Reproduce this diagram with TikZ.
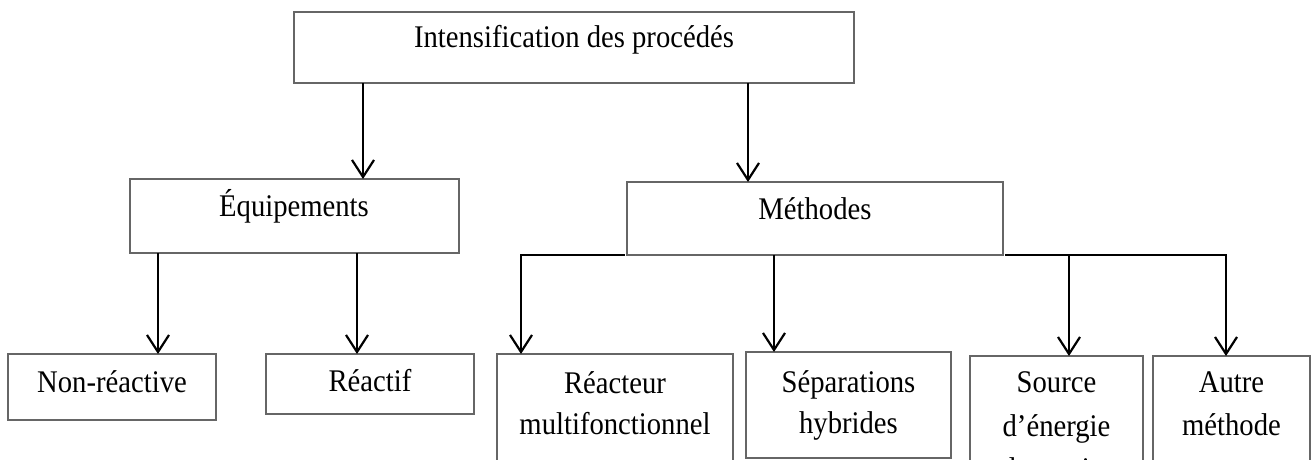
\documentclass[tikz,border=0pt]{standalone}
\usepackage{fontspec}
\setmainfont{Liberation Serif}[FakeStretch=0.91]
\usetikzlibrary{arrows.meta}
\begin{document}
\begin{tikzpicture}[x=1pt,y=-1pt,
  box/.style={draw=black!60,line width=1.2pt,rectangle,inner sep=0pt,outer sep=0pt},
  lbl/.style={inner sep=0pt,align=center,font=\fontsize{31.5}{41}\selectfont},
  lblw/.style={inner sep=0pt,align=center,font=\fontsize{31.5}{43.5}\selectfont},
  arr/.style={line width=2.4pt,-{Straight Barb[length=17pt,width=22pt,line width=2.2pt]}}]
\useasboundingbox (0,0) rectangle (1312,460);
\clip (0,0) rectangle (1312,460);
\fill[white] (0,0) rectangle (1312,460);
% boxes
\node[box,minimum width=560pt,minimum height=71pt] (top) at (574,47.5) {};
\node[box,minimum width=329pt,minimum height=74pt] (equip) at (294.5,216) {};
\node[box,minimum width=376pt,minimum height=73pt] (meth) at (815,218.5) {};
\node[box,minimum width=208pt,minimum height=66pt] (nonr) at (112,387) {};
\node[box,minimum width=208pt,minimum height=60pt] (react) at (370,384) {};
\node[box,minimum width=236pt,minimum height=136pt] (reac) at (615,422) {};
\node[box,minimum width=205pt,minimum height=106pt] (sep) at (848.5,405) {};
\node[box,minimum width=173pt,minimum height=134pt] (src) at (1056.5,423) {};
\node[box,minimum width=157pt,minimum height=134pt] (autre) at (1231.5,423) {};
% texts
\node[lbl] (topt) at (574,40) {Intensification des procédés};
\node[lbl] (equipt) at (294,206) {Équipements};
\node[lbl] (metht) at (815,209) {Méthodes};
\node[lbl] (nonrt) at (112,382) {Non-réactive};
\node[lbl] (reactt) at (370,381) {Réactif};
\node[lbl] (react2) at (615,403.5) {Réacteur\\multifonctionnel};
\node[lbl] (sept) at (848.5,405) {Séparations\\hybrides};
\node[lblw] (srct) at (1056.5,426) {Source\\d’énergie\\alternative};
\node[lblw] (autret) at (1231.5,404) {Autre\\méthode};
% x positions of connectors
\coordinate (xa) at (363,0);
\coordinate (xb) at (748,0);
\coordinate (xc) at (158,0);
\coordinate (xd) at (357,0);
\coordinate (xe) at (521,0);
\coordinate (xf) at (774,0);
\coordinate (xg) at (1069,0);
\coordinate (xh) at (1226,0);
% connectors
\draw[arr] (xa |- top.south) -- (xa |- equip.north);
\draw[arr] (xb |- top.south) -- (xb |- meth.north);
\draw[arr] (xc |- equip.south) -- (xc |- nonr.north);
\draw[arr] (xd |- equip.south) -- (xd |- react.north);
\draw[arr] ([xshift=-2pt]meth.south west) -| (xe |- reac.north);
\draw[arr] (xf |- meth.south) -- (xf |- sep.north);
\draw[arr] ([xshift=2pt]meth.south east) -| (xh |- autre.north);
\draw[arr] (xg |- meth.south) -- (xg |- src.north);
\end{tikzpicture}
\end{document}
